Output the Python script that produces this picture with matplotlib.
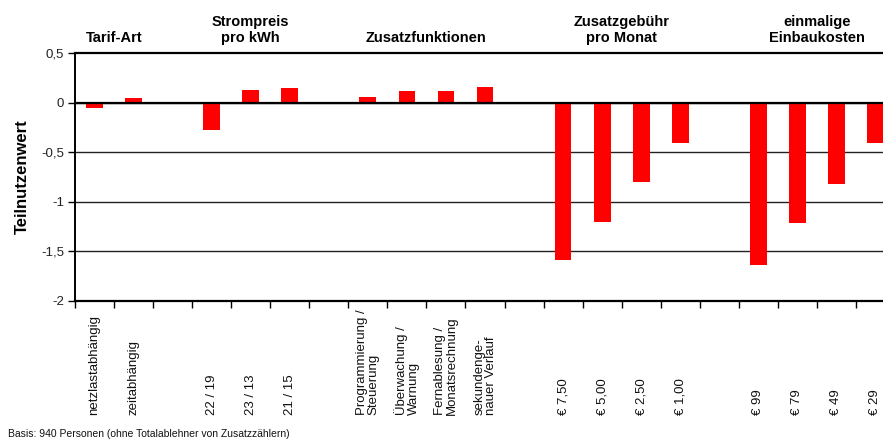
import matplotlib
matplotlib.use('Agg')
import matplotlib.pyplot as plt
import matplotlib.transforms as mtransforms

plt.rcParams['font.family'] = ['Liberation Sans', 'DejaVu Sans']

# category slots 1..21, None = empty slot between groups
labels = ["netzlastabhängig", "zeitabhängig", None,
          "22 / 19", "23 / 13", "21 / 15", None,
          "Programmierung /\nSteuerung", "Überwachung /\nWarnung",
          "Fernablesung /\nMonatsrechnung", "sekundenge-\nnauer Verlauf", None,
          "€ 7,50", "€ 5,00", "€ 2,50", "€ 1,00", None,
          "€ 99", "€ 79", "€ 49", "€ 29"]
values = [-0.05, 0.05, None,
          -0.28, 0.13, 0.15, None,
          0.06, 0.12, 0.12, 0.16, None,
          -1.59, -1.20, -0.80, -0.41, None,
          -1.64, -1.21, -0.82, -0.41]

groups = ["Tarif-Art", "Strompreis\npro kWh", "Zusatzfunktionen",
          "Zusatzgebühr\npro Monat", "einmalige\nEinbaukosten"]
group_pos = [1.5, 5, 9.5, 14.5, 19.5]

yticks = [0.5, 0, -0.5, -1, -1.5, -2]
ytick_labels = ["0,5", "0", "-0,5", "-1", "-1,5", "-2"]

fig = plt.figure(figsize=(8.83, 4.44), dpi=100)
ax = fig.add_axes([75 / 883, 143.3 / 444, 820 / 883, 247.4 / 444])

xs = [i + 1 for i, v in enumerate(values) if v is not None]
vs = [v for v in values if v is not None]
ax.bar(xs, vs, width=0.43, color='#ff0000', zorder=3)

ax.set_xlim(0.5, 21.5)
ax.set_ylim(-2, 0.5)

# gridlines
for y in yticks:
    if y in (0.5, -2):
        continue
    ax.axhline(y, color='#222222', lw=1.0, zorder=1)
ax.axhline(0, color='black', lw=1.6, zorder=4)
ax.axhline(0.5, color='black', lw=1.6, zorder=4, clip_on=False)

for s in ['top', 'right']:
    ax.spines[s].set_visible(False)
ax.spines['left'].set_linewidth(1.4)
ax.spines['bottom'].set_linewidth(1.6)

ax.set_yticks(yticks)
ax.set_yticklabels(ytick_labels, fontsize=9.5, color='#222222')
ax.tick_params(axis='y', length=5, width=1, pad=3)

ax.set_xticks([i + 0.5 for i in range(21)])
ax.set_xticklabels([])
ax.tick_params(axis='x', length=5, width=1, direction='out')

ax.set_ylabel("Teilnutzenwert", fontsize=12, fontweight='bold', labelpad=8)

# category labels, bottom aligned
trans = mtransforms.blended_transform_factory(ax.transData, fig.transFigure)
for i, lab in enumerate(labels):
    if lab is None:
        continue
    ax.text(i + 1, 29 / 444, lab, transform=trans, rotation=90,
            ha='center', va='bottom', multialignment='left',
            fontsize=9.5, color='#111111', linespacing=0.95)

# group headers
for g, p in zip(groups, group_pos):
    ax.text(p, 1 - 42 / 444, g, transform=trans, ha='center', va='baseline',
            fontsize=10.5, fontweight='bold', linespacing=1.2)

fig.text(8 / 883, 1 - 434 / 444, "Basis: 940 Personen (ohne Totalablehner von Zusatzzählern)",
         fontsize=7.5, va='center', ha='left', color='#111111')

fig.savefig("out.png", dpi=100)
